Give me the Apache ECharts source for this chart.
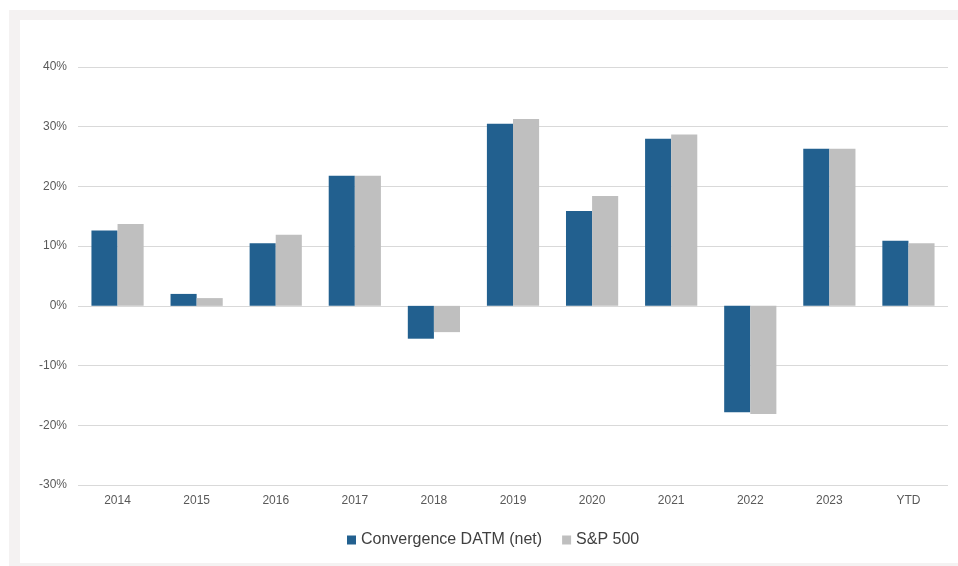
<!DOCTYPE html>
<html>
<head>
<meta charset="utf-8">
<script src="https://cdn.jsdelivr.net/npm/echarts@6/dist/echarts.min.js"></script>
<style>
html,body{margin:0;padding:0;background:#ffffff;width:958px;height:566px;overflow:hidden;}
#frame{position:absolute;left:9px;top:10px;width:949px;height:556px;background:#f4f2f2;}
#chart{position:absolute;left:20px;top:20px;width:938px;height:543px;background:#ffffff;}
</style>
</head>
<body>
<div id="frame"></div>
<div id="chart"></div>
<script>
const categories = ['2014','2015','2016','2017','2018','2019','2020','2021','2022','2023','YTD'];
const convergence = [12.6, 2.0, 10.5, 21.8, -5.5, 30.5, 15.9, 28.0, -17.8, 26.3, 10.9];
const sp500 = [13.7, 1.3, 11.9, 21.8, -4.4, 31.3, 18.4, 28.7, -18.1, 26.3, 10.5];
const seriesNames = ['Convergence DATM (net)', 'S&P 500'];

const chart = echarts.init(document.getElementById('chart'));
chart.setOption({
  animation: false,
  textStyle: {fontFamily: '"Liberation Sans", Arial, sans-serif'},
  grid: {left: 58, top: 47, right: 10, bottom: 78},
  legend: {
    data: seriesNames,
    left: 322, top: 507,
    itemWidth: 9, itemHeight: 9, itemGap: 20,
    icon: 'rect',
    textStyle: {fontSize: 16, color: '#404040', fontFamily: '"Liberation Sans", Arial, sans-serif'}
  },
  xAxis: {
    type: 'category',
    data: categories,
    axisLine: {show: false, onZero: false},
    axisTick: {show: false},
    axisLabel: {color: '#595959', fontSize: 12, margin: 10}
  },
  yAxis: {
    type: 'value',
    min: -30, max: 40, interval: 10,
    axisLabel: {formatter: '{value}%', color: '#595959', fontSize: 12, margin: 11},
    splitLine: {lineStyle: {color: '#d9d9d9', width: 1}},
    axisLine: {show: false},
    axisTick: {show: false}
  },
  series: [
    {name: seriesNames[0], type: 'bar', data: convergence, barGap: '0%', barCategoryGap: '34%', itemStyle: {color: '#22608f'}},
    {name: seriesNames[1], type: 'bar', data: sp500, itemStyle: {color: '#bfbfbf'}}
  ]
});
</script>
</body>
</html>
